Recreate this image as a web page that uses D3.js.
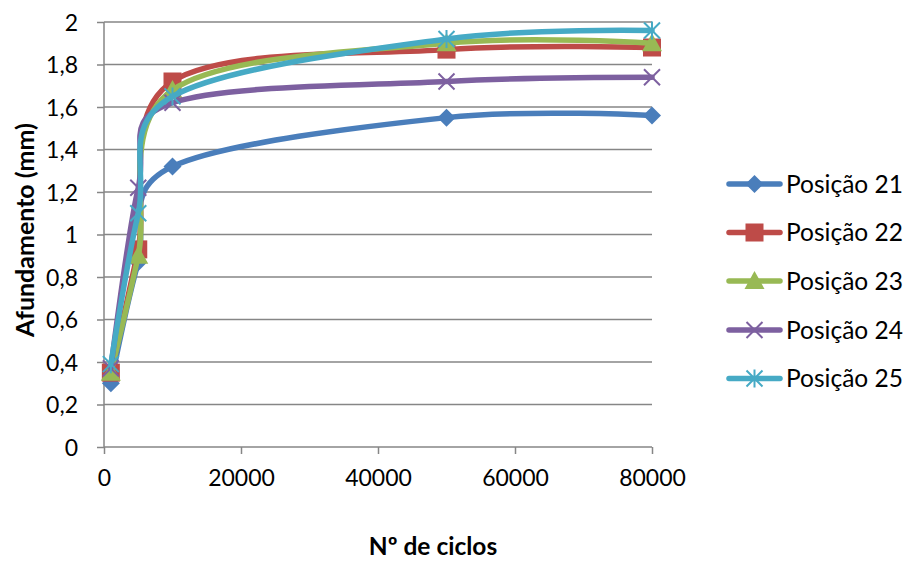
<!DOCTYPE html>
<html>
<head>
<meta charset="utf-8">
<script src="https://cdn.jsdelivr.net/npm/d3@7"></script>
<style>
  html, body { margin: 0; padding: 0; background: #fff; }
  svg { display: block; }
  text { font-family: Lato, "Open Sans", sans-serif; fill: #000; }
</style>
</head>
<body>
<svg id="chart" width="906" height="563"></svg>
<script>
// ---- data ----
const cycles = [1000, 5000, 10000, 50000, 80000];
const seriesNames = ["Posição 21", "Posição 22", "Posição 23", "Posição 24", "Posição 25"];
const pos21 = [0.30, 0.87, 1.32, 1.55, 1.56];
const pos22 = [0.35, 0.93, 1.72, 1.87, 1.88];
const pos23 = [0.35, 0.90, 1.68, 1.90, 1.90];
const pos24 = [0.37, 1.22, 1.62, 1.72, 1.74];
const pos25 = [0.39, 1.10, 1.65, 1.92, 1.96];
const xTicks = [0, 20000, 40000, 60000, 80000];
const yTicks = [0, 0.2, 0.4, 0.6, 0.8, 1, 1.2, 1.4, 1.6, 1.8, 2];
const colors = ["#4A7EBB", "#BE4B48", "#98B954", "#7D60A0", "#46AAC5"];
const markers = ["diamond", "square", "triangle", "x", "star"];
const xTitle = "Nº de ciclos";
const yTitle = "Afundamento (mm)";

const allSeries = [pos21, pos22, pos23, pos24, pos25];

// ---- layout ----
const svg = d3.select("#chart");
const plot = { left: 104, right: 652, top: 22, bottom: 447 };
const x = d3.scaleLinear().domain([0, 80000]).range([plot.left, plot.right]);
const y = d3.scaleLinear().domain([0, 2]).range([plot.bottom, plot.top]);
const gridColor = "#868686";
const fmt = d => String(d).replace(".", ",");

// horizontal gridlines
svg.append("g").selectAll("line").data(yTicks.filter(d => d > 0)).join("line")
  .attr("x1", plot.left).attr("x2", plot.right)
  .attr("y1", d => y(d)).attr("y2", d => y(d))
  .attr("stroke", gridColor).attr("stroke-width", 1.5);

// y axis
const yAxis = svg.append("g").attr("transform", `translate(${plot.left},0)`)
  .call(d3.axisLeft(y).tickValues(yTicks).tickFormat(fmt).tickSize(7).tickPadding(19));
yAxis.select(".domain").attr("stroke", gridColor).attr("stroke-width", 1.5).attr("d", `M0,${plot.top}V${plot.bottom}`);
yAxis.selectAll(".tick line").attr("stroke", gridColor).attr("stroke-width", 1.5);
yAxis.selectAll(".tick text").attr("font-size", 23).attr("font-family", "Lato").attr("fill", "#000").attr("dy", "0.35em");

// x axis
const xAxis = svg.append("g").attr("transform", `translate(0,${plot.bottom})`)
  .call(d3.axisBottom(x).tickValues(xTicks).tickFormat(d => String(d)).tickSize(7).tickPadding(16));
xAxis.select(".domain").attr("stroke", gridColor).attr("stroke-width", 1.5).attr("d", `M${plot.left},0H${plot.right}`);
xAxis.selectAll(".tick line").attr("stroke", gridColor).attr("stroke-width", 1.5);
xAxis.selectAll(".tick text").attr("font-size", 23).attr("font-family", "Lato").attr("fill", "#000");

// titles
svg.append("text").attr("x", 433).attr("y", 555).attr("text-anchor", "middle")
  .attr("font-size", 24.5).attr("font-weight", "bold").text(xTitle);
svg.append("text").attr("transform", `translate(34,230) rotate(-90)`).attr("text-anchor", "middle")
  .attr("font-size", 25).attr("font-weight", "bold").text(yTitle);

// marker drawer
function drawMarker(g, type, cx, cy, color) {
  if (type === "diamond") {
    const r = 9;
    g.append("path").attr("d", `M${cx},${cy - r}L${cx + r},${cy}L${cx},${cy + r}L${cx - r},${cy}Z`).attr("fill", color);
  } else if (type === "square") {
    const r = 9;
    g.append("rect").attr("x", cx - r).attr("y", cy - r).attr("width", 2 * r).attr("height", 2 * r).attr("fill", color);
  } else if (type === "triangle") {
    const r = 10;
    g.append("path").attr("d", `M${cx},${cy - r}L${cx + r},${cy + r * 0.8}L${cx - r},${cy + r * 0.8}Z`).attr("fill", color);
  } else if (type === "x") {
    const r = 8;
    g.append("path").attr("d", `M${cx - r},${cy - r}L${cx + r},${cy + r}M${cx - r},${cy + r}L${cx + r},${cy - r}`)
      .attr("stroke", color).attr("stroke-width", 2);
  } else if (type === "star") {
    const r = 8;
    g.append("path").attr("d", `M${cx - r},${cy - r}L${cx + r},${cy + r}M${cx - r},${cy + r}L${cx + r},${cy - r}M${cx},${cy - r - 1}L${cx},${cy + r + 1}`)
      .attr("stroke", color).attr("stroke-width", 2);
  }
}

// series
const line = d3.line().x(d => x(d[0])).y(d => y(d[1])).curve(d3.curveCardinal.tension(0));
allSeries.forEach((vals, i) => {
  const pts = cycles.map((c, j) => [c, vals[j]]);
  const g = svg.append("g");
  g.append("path").datum(pts).attr("d", line).attr("fill", "none")
    .attr("stroke", colors[i]).attr("stroke-width", 5.5).attr("stroke-linejoin", "round").attr("stroke-linecap", "round");
  pts.forEach(p => drawMarker(g, markers[i], x(p[0]), y(p[1]), colors[i]));
});

// legend
const legY = [184, 232.5, 281, 330, 378.5];
seriesNames.forEach((name, i) => {
  const g = svg.append("g");
  g.append("line").attr("x1", 729).attr("x2", 780).attr("y1", legY[i]).attr("y2", legY[i])
    .attr("stroke", colors[i]).attr("stroke-width", 5.5).attr("stroke-linecap", "round");
  drawMarker(g, markers[i], 754.5, legY[i], colors[i]);
  g.append("text").attr("x", 786).attr("y", legY[i]).attr("dy", "0.36em")
    .attr("font-size", 24.5).text(name);
});
</script>
</body>
</html>
